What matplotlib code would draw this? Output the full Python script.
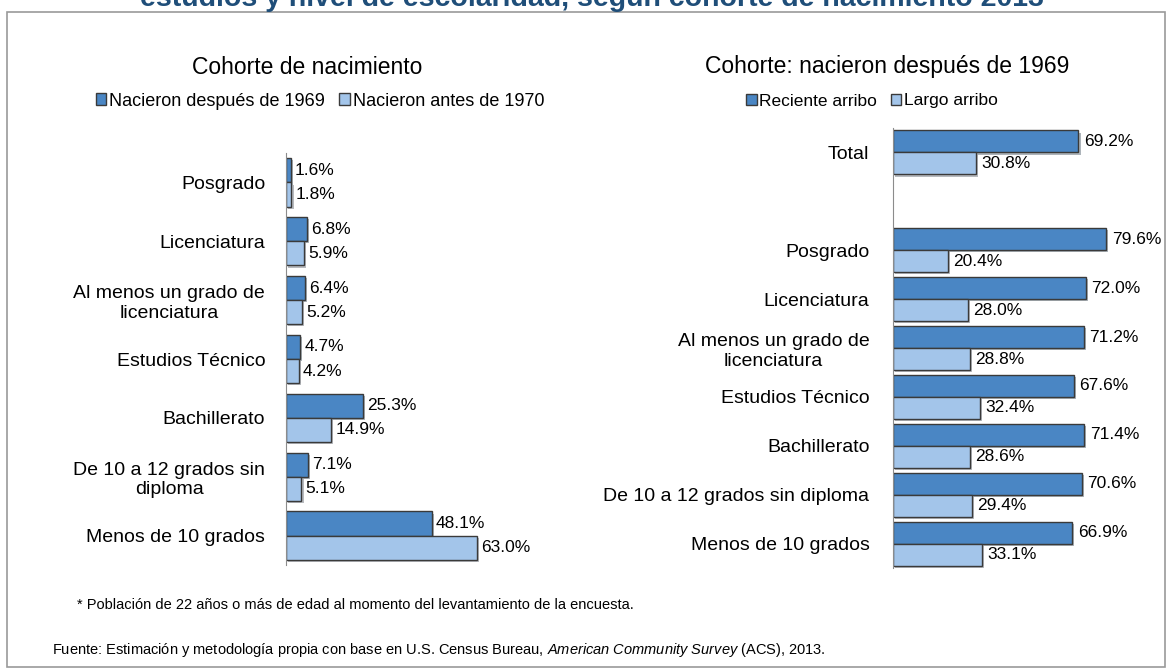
import numpy as np
import matplotlib
matplotlib.use("Agg")
import matplotlib.pyplot as plt
from matplotlib.patches import Patch, Rectangle
import matplotlib.patheffects as pe

plt.rcParams['font.family'] = ['Liberation Sans', 'DejaVu Sans']
plt.rcParams['mathtext.fontset'] = 'custom'
plt.rcParams['mathtext.rm'] = 'Liberation Sans'
plt.rcParams['mathtext.it'] = 'Liberation Sans:italic'

# datos panel izquierdo (de arriba hacia abajo)
cats_izq = ['Posgrado', 'Licenciatura', 'Al menos un grado de\nlicenciatura',
            'Estudios Técnico', 'Bachillerato', 'De 10 a 12 grados sin\ndiploma',
            'Menos de 10 grados']
despues_1969 = [1.6, 6.8, 6.4, 4.7, 25.3, 7.1, 48.1]
antes_1970 = [1.8, 5.9, 5.2, 4.2, 14.9, 5.1, 63.0]

# datos panel derecho ('' = espacio vacio)
cats_der = ['Total', '', 'Posgrado', 'Licenciatura', 'Al menos un grado de\nlicenciatura',
            'Estudios Técnico', 'Bachillerato', 'De 10 a 12 grados sin diploma',
            'Menos de 10 grados']
reciente = [69.2, np.nan, 79.6, 72.0, 71.2, 67.6, 71.4, 70.6, 66.9]
largo = [30.8, np.nan, 20.4, 28.0, 28.8, 32.4, 28.6, 29.4, 33.1]

OSCURO = '#4A86C4'
CLARO = '#A3C5EA'
BORDE = '#3A3A3A'

W, H = 1172, 669
fig = plt.figure(figsize=(W / 100, H / 100), dpi=100)

def px(x0, y0, x1, y1):
    # pixeles (origen arriba-izq) -> fraccion de figura
    return [x0 / W, 1 - y1 / H, (x1 - x0) / W, (y1 - y0) / H]

# marco
fig.patches.append(Rectangle((7 / W, 1 - 667 / H), 1158 / W, 655 / H,
                             transform=fig.transFigure, fill=False,
                             edgecolor='#9A9A9A', lw=1.2))

# titulo cortado arriba
fig.text(592 / W, 1 - 6 / H,
         'estudios y nivel de escolaridad, según cohorte de nacimiento 2013',
         ha='center', va='baseline', fontsize=20.5, fontweight='bold', color='#1F4E79')

sombra = [pe.SimplePatchShadow(offset=(1.5, -1.5), alpha=0.35), pe.Normal()]

def panel(rect, cats, a, b, xmax, hbar, pad_lbl):
    ax = fig.add_axes(rect)
    n = len(cats)
    y = np.arange(n)
    ax.barh(y - hbar / 2, a, height=hbar, color=OSCURO, edgecolor=BORDE, lw=1.0,
            path_effects=sombra)
    ax.barh(y + hbar / 2, b, height=hbar, color=CLARO, edgecolor=BORDE, lw=1.0,
            path_effects=sombra)
    for yi, v in zip(y, a):
        if not np.isnan(v):
            ax.text(v + xmax * 0.02, yi - hbar / 2, f'{v:.1f}%', va='center', fontsize=12.5)
    for yi, v in zip(y, b):
        if not np.isnan(v):
            ax.text(v + xmax * 0.02, yi + hbar / 2, f'{v:.1f}%', va='center', fontsize=12.5)
    ax.set_ylim(n - 0.5, -0.5)
    ax.set_xlim(0, xmax)
    ax.set_yticks(y)
    ax.set_yticklabels(cats, fontsize=14, multialignment='center')
    ax.tick_params(axis='y', length=0, pad=pad_lbl)
    ax.set_xticks([])
    for s in ['top', 'right', 'bottom']:
        ax.spines[s].set_visible(False)
    ax.spines['left'].set_color('#8C8C8C')
    ax.patch.set_alpha(0)
    return ax

panel(px(286, 153, 498, 565), cats_izq, despues_1969, antes_1970, 70, 0.41, 15)
panel(px(893, 128, 1161, 568), cats_der, reciente, largo, 100, 0.45, 17)

# titulos y leyendas
fig.text(307 / W, 1 - 67 / H, 'Cohorte de nacimiento', ha='center', va='center', fontsize=16.5)
fig.text(887 / W, 1 - 67 / H, 'Cohorte: nacieron después de 1969', ha='center', va='center', fontsize=16.5)

def leyenda(x, y, labels, fs):
    h = [Patch(facecolor=OSCURO, edgecolor=BORDE), Patch(facecolor=CLARO, edgecolor=BORDE)]
    fig.legend(h, labels, loc='center', bbox_to_anchor=(x / W, 1 - y / H), ncol=2,
               frameon=False, fontsize=fs, handlelength=0.6, handleheight=0.6,
               handletextpad=0.15, columnspacing=0.8)

leyenda(320, 101, ['Nacieron después de 1969', 'Nacieron antes de 1970'], 13)
leyenda(872, 101, ['Reciente arribo', 'Largo arribo'], 12.5)

# notas
fig.text(77 / W, 1 - 605 / H,
         '* Población de 22 años o más de edad al momento del levantamiento de la encuesta.',
         ha='left', va='center', fontsize=10.5)
fig.text(52 / W, 1 - 650 / H,
         r'Fuente: Estimación y metodología propia con base en U.S. Census Bureau, '
         r'$\it{American\ Community\ Survey}$ (ACS), 2013.',
         ha='left', va='center', fontsize=10.5)

fig.savefig('out.png', dpi=100)
